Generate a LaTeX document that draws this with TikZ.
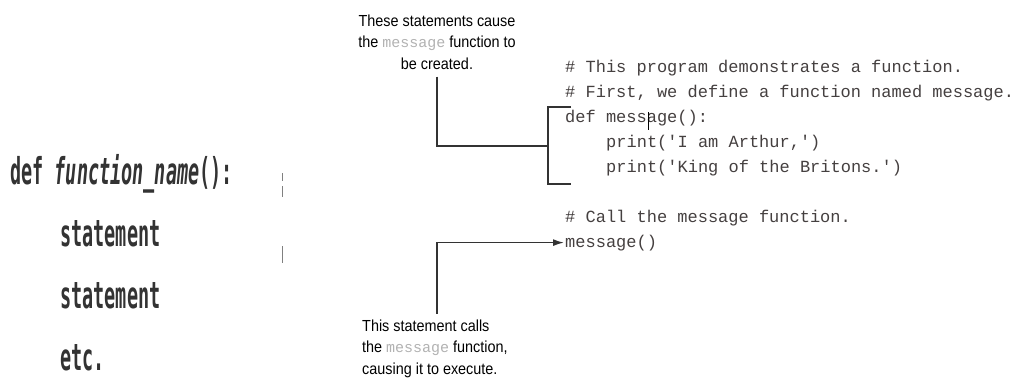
\documentclass[tikz,border=0pt]{standalone}
\usepackage{fontspec}
\setmainfont{Liberation Sans}
\newfontfamily\lblfont[FakeStretch=0.9]{Liberation Sans}
\newfontfamily\codefont[Ligatures=ResetAll]{Liberation Mono}
\newfontfamily\leftfont[FakeStretch=0.5]{DejaVu Sans Mono}
\usetikzlibrary{arrows.meta,calc}
\definecolor{ink}{HTML}{333333}
\definecolor{codeink}{HTML}{454040}
\newcommand\lblmsg{{\codefont\fontsize{15}{15}\selectfont\color{gray!60}message}}
\newcommand\sq{\textquotesingle}
\begin{document}
\begin{tikzpicture}[x=1pt,y=-1pt,
  lbl/.style={font=\lblfont\fontsize{16}{21.5}\selectfont, text=black, inner sep=0pt},
  code/.style={font=\codefont\fontsize{17}{25}\selectfont, anchor=base west, inner sep=0pt, text=codeink},
  leftcode/.style={font=\leftfont\bfseries\fontsize{37}{40}\selectfont, anchor=base west, inner sep=0pt, text=black!80},
  conn/.style={draw=ink, line width=1.5pt}
]
\useasboundingbox (0,0) rectangle (1021,378);
\fill[white] (0,0) rectangle (1021,378);

% left generic form
\node[leftcode] (d0) at (10,184) {def \textit{function\_name}():};
\node[leftcode] (s1) at (60,246) {statement};
\node[leftcode] (s2) at (60,308) {statement};
\node[leftcode] (e0) at (60,370) {etc.};

% small marks
\draw[draw=gray, line width=1pt] (282,173) -- (282,181);
\draw[draw=gray, line width=1pt] (282,186) -- (282,197);
\draw[draw=gray, line width=1pt] (282,246) -- (282,263);

% code
\node[code] (c1) at (565,72) {\# This program demonstrates a function.};
\node[code] (c2) at (565,97) {\# First, we define a function named message.};
\node[code] (c3) at (565,122) {def message():};
\node[code] (c4) at (606,147) {print(\sq I am Arthur,\sq)};
\node[code] (c5) at (606,172) {print(\sq King of the Britons.\sq)};
\node[code] (c6) at (565,222) {\# Call the message function.};
\node[code] (c7) at (565,247) {message()};
\draw[black, line width=0.8pt] (648,112) -- (648,130);

% labels
\node[lbl, align=center, anchor=north] (top) at (437,14.5)
  {These statements cause\\the \lblmsg{} function to\\be created.};
\node[lbl, align=left, anchor=north west] (bot) at (362,319.5)
  {This statement calls\\the \lblmsg{} function,\\causing it to execute.};

% bracket and connectors
\coordinate (bt) at (571,107);
\coordinate (bb) at (571,184);
\coordinate (brk) at (548,146);
\draw[conn] (bt) -- (548,107) -- (548,184) -- (bb);
\draw[conn] ([yshift=-7pt]top.south) |- (brk);
\draw[conn, -{Latex[length=11pt,width=7pt]}] ([yshift=6pt]bot.north -| top.south) |- ([xshift=-1pt]c7.west);
\end{tikzpicture}
\end{document}
